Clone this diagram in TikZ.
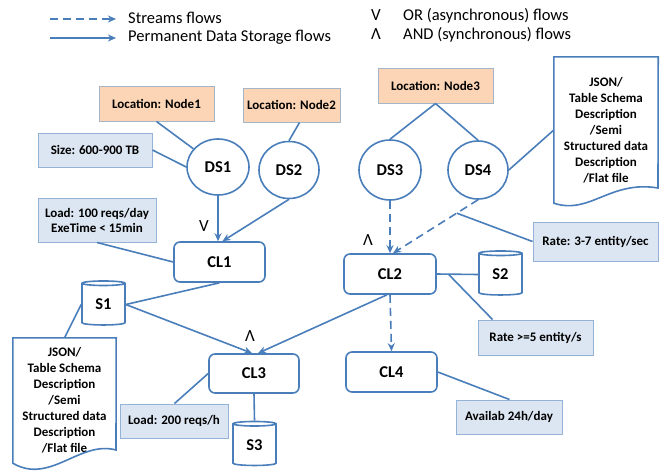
\documentclass[tikz,border=0pt]{standalone}
\usepackage{fontspec}
\setmainfont{Carlito}
\usetikzlibrary{arrows.meta,shapes.geometric,calc}
\definecolor{lineblue}{HTML}{4A7EBB}
\definecolor{lblfill}{HTML}{DCE6F2}
\definecolor{lblborder}{HTML}{95B3D7}
\definecolor{locfill}{HTML}{FBD5B5}
\definecolor{locborder}{HTML}{A5B5C9}
\tikzset{
  conn/.style={draw=lineblue, line width=1.6pt},
  arr/.style={conn, -{Stealth[length=8pt,width=7pt,inset=2.5pt]}},
  dsh/.style={dash pattern=on 8pt off 5pt},
  lbl/.style={draw=lblborder, line width=1pt, fill=lblfill, font=\fontsize{13}{15}\selectfont\bfseries, inner sep=0pt, align=center},
  loc/.style={draw=locborder, line width=1pt, fill=locfill, font=\fontsize{13}{15}\selectfont\bfseries, inner sep=0pt},
  dsnode/.style={ellipse, draw=lineblue, line width=1.6pt, fill=white, font=\fontsize{16.5}{18}\selectfont\bfseries, inner sep=0pt},
  clnode/.style={rectangle, rounded corners=6pt, draw=lineblue, line width=1.6pt, fill=white, minimum width=91pt, minimum height=40pt, font=\fontsize{16.5}{18}\selectfont\bfseries, inner sep=0pt},
  store/.style={cylinder, shape border rotate=90, aspect=0.28, draw=lineblue, line width=1.6pt, fill=white, minimum width=43pt, minimum height=44pt, font=\fontsize{16.5}{18}\selectfont\bfseries, inner sep=0pt},
  docnode/.style={inner sep=0pt, align=center, font=\fontsize{13}{16}\selectfont\bfseries},
  legend/.style={font=\fontsize{16.5}{18}\selectfont, anchor=west, inner sep=0pt},
  gate/.style={font=\fontsize{17}{18}\selectfont, inner sep=0pt}
}
\begin{document}
\begin{tikzpicture}[x=1pt,y=-1pt]
\useasboundingbox (0,0) rectangle (660,474);
% legend
\coordinate (lg1a) at (50,19);
\coordinate (lg1b) at (116,19);
\coordinate (lg2a) at (50,38);
\coordinate (lg2b) at (116,38);
\draw[arr,dsh] (lg1a) -- (lg1b);
\draw[arr] (lg2a) -- (lg2b);
\node[legend] (lgt1) at (128,18) {Streams flows};
\node[legend] (lgt2) at (128,37) {Permanent Data Storage flows};
\node[gate] (lgv) at (376,15) {V};
\node[gate] (lgl) at (376,34) {Λ};
\node[legend] (lgt3) at (403,16) {OR (asynchronous) flows};
\node[legend] (lgt4) at (403,35) {AND (synchronous) flows};

% left top
\node[loc, minimum width=115pt, minimum height=35pt] (loc1) at (156.5,103.5) {Location: Node1};
\node[loc, minimum width=97pt, minimum height=34pt] (loc2) at (291.5,105) {Location: Node2};
\node[lbl, minimum width=114pt, minimum height=34pt] (size) at (95,150) {Size: 600-900 TB};
\node[lbl, minimum width=118pt, minimum height=44pt] (load1) at (97,220) {Load: 100 reqs/day\\ExeTime < 15min};
\node[dsnode, minimum width=62pt, minimum height=56pt] (ds1) at (218,167) {DS1};
\node[dsnode, minimum width=60pt, minimum height=57pt] (ds2) at (289,170) {DS2};
\node[clnode] (cl1) at (219.5,262) {CL1};

% right top
\node[loc, minimum width=115pt, minimum height=35pt] (loc3) at (435.5,85.5) {Location: Node3};
\node[dsnode, minimum width=62pt, minimum height=60pt] (ds3) at (390,170) {DS3};
\node[dsnode, minimum width=60pt, minimum height=58pt] (ds4) at (478,170) {DS4};
\node[docnode, minimum width=104pt, minimum height=146pt] (docr) at (606,130) {JSON/\\Table Schema\\Description\\/Semi\\Structured data\\Description\\/Flat file};
\draw[draw=lineblue, line width=1.6pt] (docr.south west) -- (docr.north west) -- (docr.north east) -- (658,188) .. controls (610,180) and (590,215) .. (docr.south west) -- cycle;
\node[lbl, minimum width=125pt, minimum height=39pt] (rate1) at (595.5,241.5) {Rate: 3-7 entity/sec};
\node[clnode, minimum width=92pt] (cl2) at (390,274) {CL2};
\node[store] (s2) at (500.5,274.5) {S2};
\node[lbl, minimum width=115pt, minimum height=35pt] (rate2) at (535.5,337.5) {Rate >=5 entity/s};
\node[clnode] (cl4) at (391.5,372) {CL4};
\node[lbl, minimum width=106pt, minimum height=34pt] (avail) at (509,417) {Availab 24h/day};

% left bottom
\node[store] (s1) at (103.5,304.5) {S1};
\node[docnode, minimum width=103pt, minimum height=125pt] (docl) at (64.5,400.5) {JSON/\\Table Schema\\Description\\/Semi\\Structured data\\Description\\/Flat file};
\draw[draw=lineblue, line width=1.6pt] (docl.south west) -- (docl.north west) -- (docl.north east) -- (116,450) .. controls (80,440) and (50,485) .. (docl.south west) -- cycle;
\node[clnode, minimum width=90pt, minimum height=39pt] (cl3) at (254,373.5) {CL3};
\node[lbl, minimum width=108pt, minimum height=34pt] (load2) at (174,421) {Load: 200 reqs/h};
\node[store] (s3) at (254.5,445) {S3};

% gate labels
\node[gate] (g1) at (204,226) {V};
\node[gate] (g2) at (368,240) {Λ};
\node[gate] (g3) at (250,336) {Λ};

% connectors
\draw[conn] (loc1.south) -- (ds1);
\draw[conn] (size.east) -- (ds1.west);
\draw[conn] ([xshift=8pt]loc2.south) -- (ds2.north);
\draw[conn] (load1.south) -- (cl1.west);
\draw[arr] (ds1.south) -- (ds1.south |- cl1.north);
\draw[arr] (ds2.south) -- ([xshift=3pt]cl1.north);
\draw[conn] (loc3.south) -- (ds3.north);
\draw[conn] (loc3.south) -- (ds4.north);
\draw[conn] (ds4.east) -- (docr.west);
\draw[arr,dsh] (ds3.south) -- (cl2.north);
\draw[arr,dsh] (ds4.south) -- ([xshift=3pt]cl2.north);
\coordinate (rj) at ($(ds4.south)!0.25!([xshift=3pt]cl2.north)$);
\draw[conn] (rj) -- (rate1.west);
\draw[conn] (cl2.east) -- (s2.west);
\coordinate (r2j) at ($(cl2.east)!0.28!(s2.west)$);
\draw[conn] (r2j) -- ([xshift=15pt]rate2.north west);
\draw[arr,dsh] (cl2.south) -- (cl4.north);
\draw[conn] (cl4.east) -- ([xshift=54pt]avail.north west);
\draw[conn] (cl1.south) -- (s1.east);
\draw[arr] (s1.east) -- ([xshift=-2pt]cl3.north);
\draw[arr] ([xshift=-3pt]cl2.south) -- ([xshift=4pt]cl3.north);
\draw[conn] (s1.west) -- (docl.north);
\draw[conn] (cl3.west) -- ([xshift=55pt]load2.north west);
\draw[conn] (cl3.south) -- (s3.north);
\end{tikzpicture}
\end{document}
